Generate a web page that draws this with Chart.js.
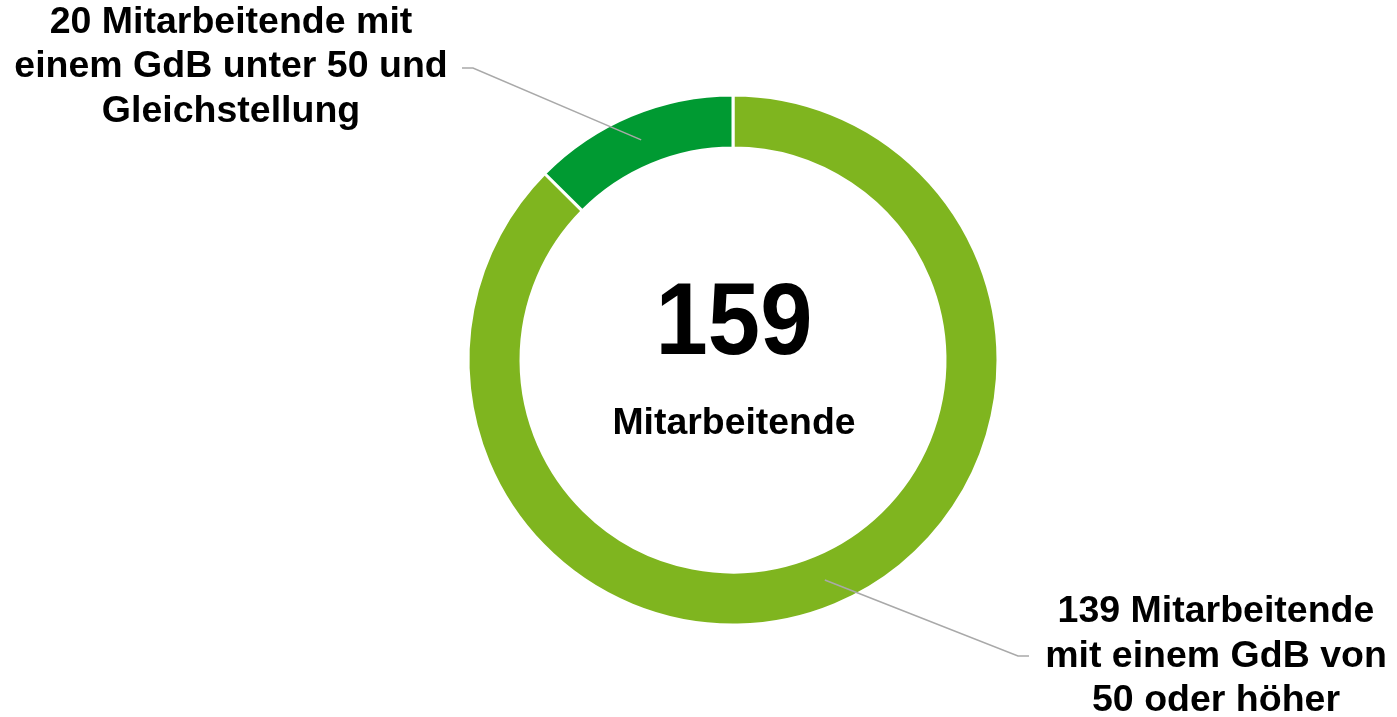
<!DOCTYPE html>
<html>
<head>
<meta charset="utf-8">
<script src="https://cdn.jsdelivr.net/npm/chart.js@4/dist/chart.umd.min.js"></script>
<style>
html,body{margin:0;padding:0;background:#fff;}
#wrap{width:1397px;height:717px;}
</style>
</head>
<body>
<div id="wrap"><canvas id="c" width="1397" height="717"></canvas></div>
<script>
const categories = ["Mitarbeitende mit einem GdB von 50 oder höher", "Mitarbeitende mit einem GdB unter 50 und Gleichstellung"];
const values = [139, 20];
const colors = ["#7fb51f", "#009a32"];
const totalLabel = "Mitarbeitende";
const labelLines = [
  ["139 Mitarbeitende", "mit einem GdB von", "50 oder höher"],
  ["20 Mitarbeitende mit", "einem GdB unter 50 und", "Gleichstellung"]
];

const FONT = '"Liberation Sans", Arial, sans-serif';

const overlay = {
  id: 'overlay',
  afterDraw(chart) {
    const ctx = chart.ctx;
    const meta = chart.getDatasetMeta(0);
    const total = values.reduce((a, b) => a + b, 0);
    const arc0 = meta.data[0];
    const cx = arc0.x, cy = arc0.y;

    // center text
    ctx.save();
    ctx.fillStyle = '#000';
    ctx.textAlign = 'center';
    ctx.textBaseline = 'middle';
    ctx.save();
    ctx.translate(cx + 1, cy - 34);
    ctx.scale(1, 1.09);
    ctx.font = 'bold 94px ' + FONT;
    ctx.fillText(String(total), 0, 0);
    ctx.restore();
    ctx.font = 'bold 37.4px ' + FONT;
    ctx.fillText(totalLabel, cx + 1, cy + 64);

    // leader lines + labels
    const cfg = [
      { i: 0, elbow: [1018, 656], end: [1029, 656], tx: 1216, ty: [612, 657, 701] },
      { i: 1, elbow: [473, 68], end: [462, 68], tx: 231, ty: [23, 67, 112] }
    ];
    cfg.forEach(c => {
      const a = meta.data[c.i];
      const mid = (a.startAngle + a.endAngle) / 2;
      const rr = (a.innerRadius + a.outerRadius) / 2;
      const sx = cx + Math.cos(mid) * rr;
      const sy = cy + Math.sin(mid) * rr;
      ctx.strokeStyle = '#a9a9a9';
      ctx.lineWidth = 1.6;
      ctx.beginPath();
      ctx.moveTo(sx, sy);
      ctx.lineTo(c.elbow[0], c.elbow[1]);
      ctx.lineTo(c.end[0], c.end[1]);
      ctx.stroke();
      ctx.fillStyle = '#000';
      ctx.font = 'bold 37.5px ' + FONT;
      labelLines[c.i].forEach((t, k) => ctx.fillText(t, c.tx, c.ty[k]));
    });
    ctx.restore();
  }
};

new Chart(document.getElementById('c'), {
  type: 'doughnut',
  data: {
    labels: categories,
    datasets: [{
      data: values,
      backgroundColor: colors,
      borderColor: '#ffffff',
      borderWidth: 3,
      hoverOffset: 0
    }]
  },
  options: {
    responsive: false,
    animation: false,
    radius: 265,
    cutout: '80%',
    rotation: 0,
    layout: { padding: { left: 69, right: 0, top: 3, bottom: 0 } },
    plugins: { legend: { display: false }, tooltip: { enabled: false } },
    events: []
  },
  plugins: [overlay]
});
</script>
</body>
</html>
